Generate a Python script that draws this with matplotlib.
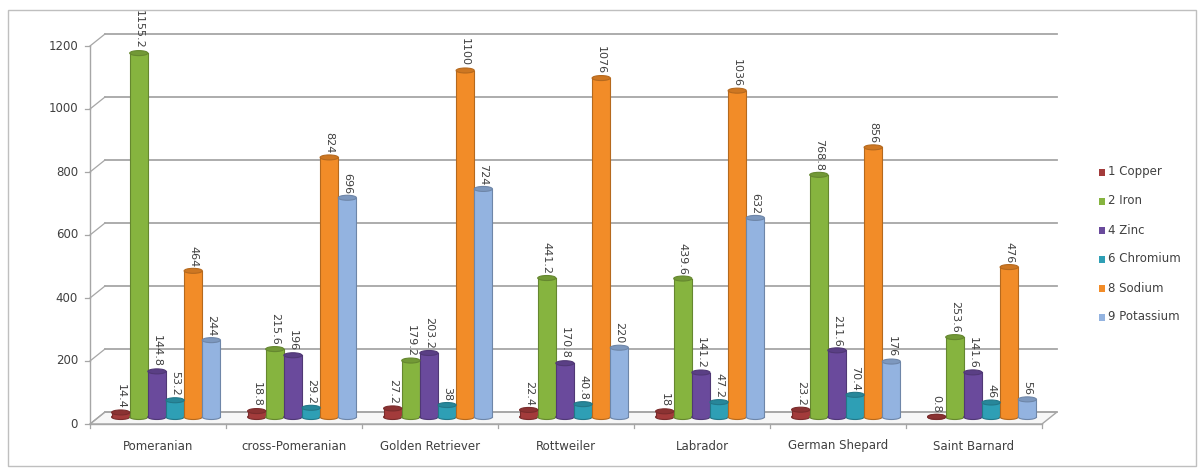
import numpy as np
import matplotlib.pyplot as plt
from matplotlib.patches import Ellipse, Rectangle, Polygon
from matplotlib.colors import to_rgb

# Data
breeds = ['Pomeranian', 'cross-Pomeranian', 'Golden Retriever', 'Rottweiler',
          'Labrador', 'German Shepard', 'Saint Barnard']
elements = ['1 Copper', '2 Iron', '4 Zinc', '6 Chromium', '8 Sodium', '9 Potassium']

copper = [14.4, 18.8, 27.2, 22.4, 18, 23.2, 0.8]
iron = [1155.2, 215.6, 179.2, 441.2, 439.6, 768.8, 253.6]
zinc = [144.8, 196, 203.2, 170.8, 141.2, 211.6, 141.6]
chromium = [53.2, 29.2, 38, 40.8, 47.2, 70.4, 46]
sodium = [464, 824, 1100, 1076, 1036, 856, 476]
potassium = [244, 696, 724, 220, 632, 176, 56]

series = [copper, iron, zinc, chromium, sodium, potassium]
colors = ['#A33B3B', '#86B43F', '#6A4A9C', '#2E9FB5', '#F28C28', '#93B3E0']
yticks = [0, 200, 400, 600, 800, 1000, 1200]


def darker(c, f=0.75):
    r, g, b = to_rgb(c)
    return (r * f, g * f, b * f)


fig = plt.figure(figsize=(12.04, 4.72), dpi=100)
fig.patch.set_facecolor('white')

# outer chart border
fig.patches.append(Rectangle((8 / 1204, 6 / 472), 1188 / 1204, 456 / 472,
                             transform=fig.transFigure, fill=False,
                             edgecolor='#BFBFBF', linewidth=1.0))

ax = fig.add_axes([90 / 1204, 48 / 472, 952 / 1204, 378 / 472])
ax.set_xlim(0, 7)
ax.set_ylim(0, 1200)
ax.axis('off')

# pseudo-3D offsets (back wall and bar plane)
px_x = 7 / 952
px_y = 1200 / 378
back_dx, back_dy = 15 * px_x, 12 * px_y
mid_dx, mid_dy = 8 * px_x, 7 * px_y
grid_col = '#A6A6A6'

# floor
ax.add_patch(Polygon([(0, 0), (7, 0), (7 + back_dx, back_dy), (back_dx, back_dy)],
                     closed=True, facecolor='#F7F7F7', edgecolor=grid_col,
                     linewidth=1.0, clip_on=False, zorder=1))

# back wall gridlines and connectors
for v in yticks:
    ax.plot([back_dx, 7 + back_dx], [v + back_dy, v + back_dy], color=grid_col,
            linewidth=1.3, clip_on=False, zorder=1)
    ax.plot([0, back_dx], [v, v + back_dy], color=grid_col, linewidth=0.9,
            clip_on=False, zorder=1)
    ax.plot([-5 * px_x, 0], [v, v], color=grid_col, linewidth=0.9, clip_on=False)
    ax.text(-12 * px_x, v, str(v), ha='right', va='center', fontsize=8.5,
            color='#404040')

# front value axis and category axis
ax.plot([0, 0], [0, 1200], color=grid_col, linewidth=1.0, clip_on=False, zorder=2)
ax.plot([0, 7], [0, 0], color=grid_col, linewidth=1.0, clip_on=False, zorder=2)
for i in range(8):
    ax.plot([i, i], [0, -4 * px_y], color=grid_col, linewidth=0.9, clip_on=False)

for i, name in enumerate(breeds):
    ax.text(i + 0.5, -22 * px_y, name, ha='center', va='center', fontsize=8.5,
            color='#404040')

# cylinder bars
n = len(series)
bw = 0.8 / n
cap_h = 5 * px_y
for j, (vals, col) in enumerate(zip(series, colors)):
    for i, v in enumerate(vals):
        x0 = i + 0.1 + j * bw + mid_dx
        xc = x0 + bw / 2
        ax.add_patch(Ellipse((xc, mid_dy), bw, cap_h, facecolor=col,
                             edgecolor=darker(col), linewidth=0.8, zorder=3))
        ax.add_patch(Rectangle((x0, mid_dy), bw, v, facecolor=col,
                               edgecolor='none', zorder=3))
        ax.plot([x0, x0], [mid_dy, mid_dy + v], color=darker(col), linewidth=0.8, zorder=3)
        ax.plot([x0 + bw, x0 + bw], [mid_dy, mid_dy + v], color=darker(col),
                linewidth=0.8, zorder=3)
        ax.add_patch(Ellipse((xc, mid_dy + v), bw, cap_h, facecolor=darker(col, 0.85),
                             edgecolor=darker(col), linewidth=0.8, zorder=4))
        label = ('%g' % v)
        ax.text(xc, mid_dy + v + 4 * px_y, label, rotation=-90, ha='center',
                va='bottom', fontsize=8, color='#404040', zorder=5,
                clip_on=False)

# legend
for k, (name, col) in enumerate(zip(elements, colors)):
    y = 1 - (172 + 29 * k) / 472
    fig.patches.append(Rectangle((1099 / 1204, y - 3.5 / 472), 6 / 1204, 7 / 472,
                                 transform=fig.transFigure, facecolor=col,
                                 edgecolor='none'))
    fig.text(1108 / 1204, y, name, ha='left', va='center', fontsize=8.5,
             color='#404040')

fig.savefig('out.png', dpi=100, facecolor='white')
